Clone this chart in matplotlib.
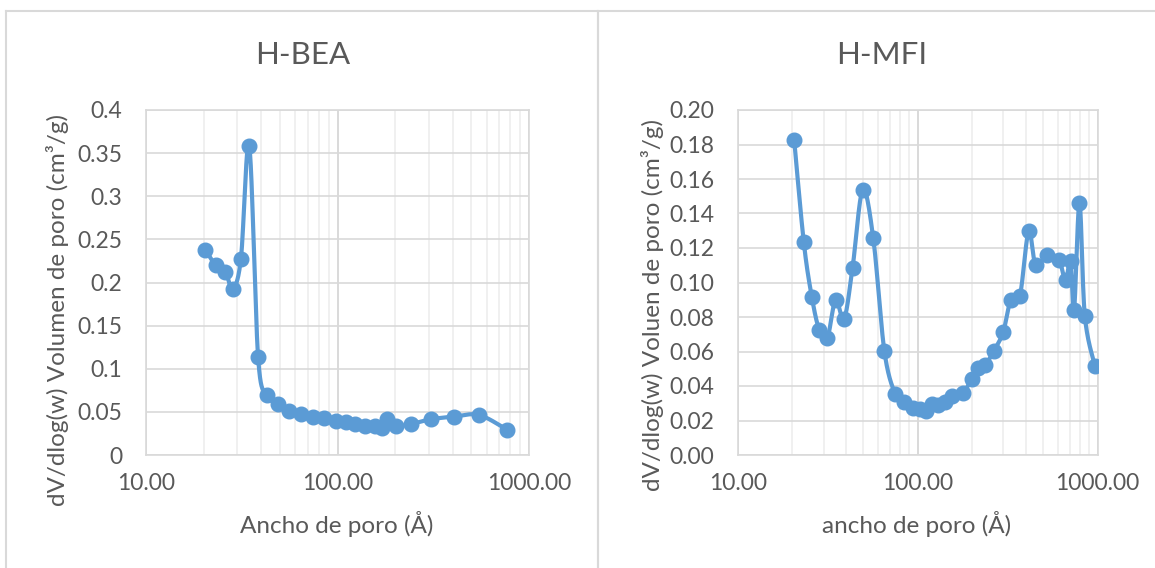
import numpy as np
import matplotlib
matplotlib.use("Agg")
import matplotlib.pyplot as plt
from matplotlib.ticker import FixedLocator, LogLocator, NullFormatter, FixedFormatter
from matplotlib.lines import Line2D

plt.rcParams['font.family'] = ['Lato', 'DejaVu Sans']

# H-BEA pore size distribution
bea_width = [20.4, 23.1, 26.0, 28.3, 31.3, 34.6, 38.5, 42.9, 48.8, 55.9, 64.3, 74.6, 85.1,
             98.0, 111, 124, 140, 157, 171, 182, 201, 243, 306, 406, 549, 772]
bea_dv = [0.2378, 0.2204, 0.2127, 0.1922, 0.2274, 0.3588, 0.1133, 0.0696, 0.0592, 0.0514,
          0.0476, 0.0445, 0.0425, 0.0394, 0.0379, 0.0356, 0.0336, 0.0336, 0.0310, 0.0414,
          0.0336, 0.0360, 0.0414, 0.0445, 0.0464, 0.0290]

# H-MFI pore size distribution
mfi_width = [20.6, 23.3, 25.8, 28.4, 31.5, 35.0, 39.0, 43.5, 49.5, 56.7, 65.3, 75.0, 84.0,
             94.0, 103, 112, 120, 130, 142, 155, 179, 200, 217, 237, 265, 299, 330, 370,
             414, 454, 527, 610, 664, 708, 741, 794, 850, 966]
mfi_dv = [0.1828, 0.1233, 0.0918, 0.0726, 0.0680, 0.0900, 0.0788, 0.1086, 0.1536, 0.1256,
          0.0605, 0.0355, 0.0310, 0.0275, 0.0265, 0.0255, 0.0295, 0.0287, 0.0305, 0.0340,
          0.0362, 0.0441, 0.0504, 0.0522, 0.0601, 0.0713, 0.0900, 0.0920, 0.1296, 0.1100,
          0.1161, 0.1132, 0.1012, 0.1125, 0.0840, 0.1461, 0.0808, 0.0518]

bea_yticks = [0, 0.05, 0.1, 0.15, 0.2, 0.25, 0.3, 0.35, 0.4]
bea_ylabels = ['0', '0.05', '0.1', '0.15', '0.2', '0.25', '0.3', '0.35', '0.4']
mfi_yticks = [0, 0.02, 0.04, 0.06, 0.08, 0.10, 0.12, 0.14, 0.16, 0.18, 0.20]
mfi_ylabels = ['%.2f' % v for v in mfi_yticks]
x_ticks = [10, 100, 1000]
x_labels = ['10.00', '100.00', '1000.00']

BLUE = '#5b9bd5'
TEXT = '#595959'
GRID = '#d9d9d9'
MINOR = '#ededed'

W, H = 1155, 568
fig = plt.figure(figsize=(W / 100, H / 100), dpi=100)


def px(x0, y0, x1, y1):
    # pixel box (top-left origin) -> figure fraction rect
    return [x0 / W, 1 - y1 / H, (x1 - x0) / W, (y1 - y0) / H]


def smooth_line(ax, xs, ys, n=24):
    # Excel-style smoothed line: Catmull-Rom Bezier built in pixel space
    ax.figure.canvas.draw()
    tr = ax.transData
    pts = tr.transform(np.column_stack([xs, ys]))
    m = len(pts)
    out = [pts[0]]
    t = np.linspace(0, 1, n)[1:, None]
    for i in range(m - 1):
        p0 = pts[i - 1] if i > 0 else pts[i]
        p1 = pts[i]
        p2 = pts[i + 1]
        p3 = pts[i + 2] if i + 2 < m else pts[i + 1]
        c1 = p1 + (p2 - p0) / 6
        c2 = p2 - (p3 - p1) / 6
        seg = ((1 - t) ** 3) * p1 + 3 * ((1 - t) ** 2) * t * c1 + 3 * (1 - t) * t ** 2 * c2 + t ** 3 * p2
        out.extend(seg)
    data = tr.inverted().transform(np.array(out))
    return data[:, 0], data[:, 1]


def make_panel(rect, xs, ys, ymax, yticks, ylabels):
    ax = fig.add_axes(rect)
    ax.set_xscale('log')
    ax.set_xlim(10, 1000)
    ax.set_ylim(0, ymax)
    ax.xaxis.set_major_locator(FixedLocator(x_ticks))
    ax.xaxis.set_major_formatter(FixedFormatter(x_labels))
    ax.xaxis.set_minor_locator(LogLocator(base=10, subs=np.arange(2, 10)))
    ax.xaxis.set_minor_formatter(NullFormatter())
    ax.yaxis.set_major_locator(FixedLocator(yticks))
    ax.yaxis.set_major_formatter(FixedFormatter(ylabels))
    ax.tick_params(which='both', length=0)
    ax.tick_params(axis='y', pad=17, labelsize=16.5, labelcolor=TEXT)
    ax.tick_params(axis='x', pad=13, labelsize=16.5, labelcolor=TEXT)
    ax.grid(which='minor', axis='x', color=MINOR, lw=1.2)
    ax.grid(which='major', axis='x', color=GRID, lw=1.4)
    ax.grid(which='major', axis='y', color=GRID, lw=1.2)
    ax.set_axisbelow(True)
    for s in ax.spines.values():
        s.set_color(GRID)
        s.set_linewidth(1.2)
    lx, ly = smooth_line(ax, xs, ys)
    ax.plot(lx, ly, color=BLUE, lw=3.0, solid_capstyle='round', zorder=3)
    ax.plot(xs, ys, 'o', color=BLUE, ms=10.5, zorder=4)
    return ax


make_panel(px(146, 110, 529, 455), bea_width, bea_dv, 0.4, bea_yticks, bea_ylabels)
make_panel(px(737.7, 110, 1097.5, 455), mfi_width, mfi_dv, 0.2, mfi_yticks, mfi_ylabels)

# chart frames
for xa, xb in [(6, 598), (598, 1160)]:
    fig.add_artist(Line2D([xa / W, xb / W, xb / W, xa / W, xa / W],
                          [1 - 11 / H, 1 - 11 / H, -0.1, -0.1, 1 - 11 / H],
                          transform=fig.transFigure, color=GRID, lw=1.5))


def ftext(x, y, s, **kw):
    fig.text(x / W, 1 - y / H, s, color=TEXT, ha='center', va='center', **kw)


ftext(302.5, 55, 'H-BEA', fontsize=22.5)
ftext(882, 55, 'H-MFI', fontsize=22.5)
ftext(337, 524, 'Ancho de poro (Å)', fontsize=17.5)
ftext(917, 524, 'ancho de poro (Å)', fontsize=17.5)
ftext(58, 310, 'dV/dlog(w) Volumen de poro (cm³/g)', fontsize=17.5, rotation=90)
ftext(652, 305, 'dV/dlog(w) Voluen de poro (cm³/g)', fontsize=17.5, rotation=90)

fig.savefig('out.png', dpi=100, facecolor='white')
